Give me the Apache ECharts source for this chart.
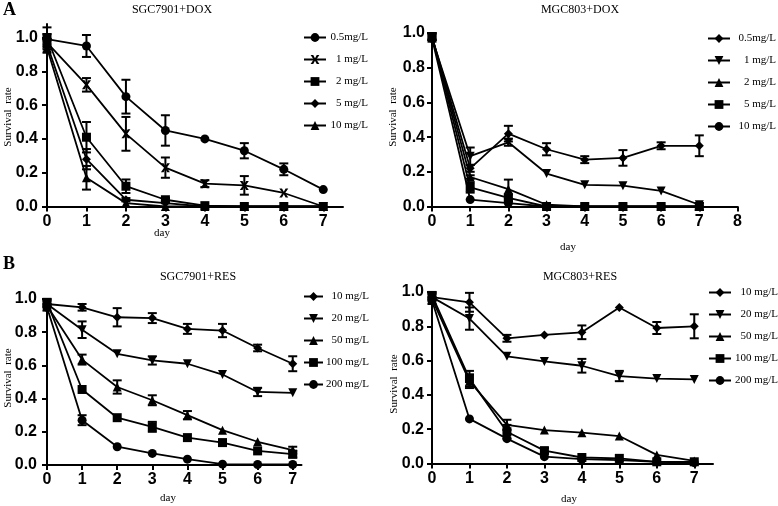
<!DOCTYPE html>
<html>
<head>
<meta charset="utf-8">
<script src="https://cdn.jsdelivr.net/npm/echarts@6/dist/echarts.min.js"></script>
<style>
  html, body { margin: 0; padding: 0; background: #fff; }
  #chart { width: 778px; height: 506px; }
</style>
</head>
<body>
<div id="chart"></div>
<script>
// 天数
var days = [0, 1, 2, 3, 4, 5, 6, 7];

// A: SGC7901+DOX
var sgcDoxNames = ['0.5mg/L', '1 mg/L', '2 mg/L', '5 mg/L', '10 mg/L'];
var sgcDox05 = [0.99, 0.95, 0.65, 0.45, 0.40, 0.33, 0.22, 0.10];
var sgcDox05Err = [0.03, 0.065, 0.10, 0.09, 0, 0.045, 0.035, 0];
var sgcDox1 = [0.97, 0.72, 0.43, 0.23, 0.135, 0.125, 0.08, 0.0];
var sgcDox1Err = [0.02, 0.04, 0.10, 0.06, 0.02, 0.055, 0, 0];
var sgcDox2 = [1.0, 0.41, 0.12, 0.04, 0.005, 0.0, 0.0, 0.0];
var sgcDox2Err = [0.06, 0.09, 0.04, 0.01, 0, 0, 0, 0];
var sgcDox5 = [0.96, 0.28, 0.04, 0.02, 0.0, 0.0, 0.0, 0.0];
var sgcDox5Err = [0.03, 0.06, 0.01, 0, 0, 0, 0, 0];
var sgcDox10 = [0.94, 0.17, 0.02, 0.0, 0.0, 0.0, 0.0, 0.0];
var sgcDox10Err = [0.03, 0.07, 0, 0, 0, 0, 0, 0];

// A: MGC803+DOX
var mgcDoxNames = ['0.5mg/L', '1 mg/L', '2 mg/L', '5 mg/L', '10 mg/L'];
var mgcDox05 = [0.98, 0.22, 0.42, 0.33, 0.27, 0.28, 0.35, 0.35];
var mgcDox05Err = [0.02, 0.02, 0.045, 0.035, 0.02, 0.045, 0.02, 0.06];
var mgcDox1 = [0.97, 0.29, 0.37, 0.19, 0.125, 0.12, 0.09, 0.01];
var mgcDox1Err = [0.02, 0.05, 0.02, 0, 0, 0, 0, 0];
var mgcDox2 = [0.98, 0.17, 0.10, 0.01, 0, 0, 0, 0];
var mgcDox2Err = [0, 0.01, 0.055, 0, 0, 0, 0, 0];
var mgcDox5 = [0.98, 0.11, 0.05, 0.0, 0, 0, 0, 0];
var mgcDox5Err = [0.02, 0.03, 0.02, 0, 0, 0, 0, 0.02];
var mgcDox10 = [0.97, 0.04, 0.02, 0, 0, 0, 0, 0];
var mgcDox10Err = [0, 0, 0, 0, 0, 0, 0, 0];

// B: SGC7901+RES
var sgcResNames = ['10 mg/L', '20 mg/L', '50 mg/L', '100 mg/L', '200 mg/L'];
var sgcRes10 = [0.97, 0.95, 0.89, 0.885, 0.82, 0.81, 0.705, 0.61];
var sgcRes10Err = [0.02, 0.02, 0.055, 0.03, 0.03, 0.04, 0.02, 0.045];
var sgcRes20 = [0.97, 0.815, 0.67, 0.63, 0.61, 0.545, 0.44, 0.435];
var sgcRes20Err = [0, 0.05, 0, 0.025, 0, 0, 0.025, 0];
var sgcRes50 = [0.96, 0.635, 0.47, 0.39, 0.30, 0.21, 0.14, 0.09];
var sgcRes50Err = [0, 0.03, 0.04, 0.03, 0.025, 0, 0, 0.02];
var sgcRes100 = [0.98, 0.455, 0.285, 0.23, 0.165, 0.135, 0.085, 0.065];
var sgcRes100Err = [0.02, 0, 0, 0.03, 0, 0, 0, 0.02];
var sgcRes200 = [0.95, 0.27, 0.11, 0.07, 0.035, 0.005, 0.003, 0.003];
var sgcRes200Err = [0.02, 0.03, 0, 0, 0, 0, 0, 0];

// B: MGC803+RES
var mgcResNames = ['10 mg/L', '20 mg/L', '50 mg/L', '100 mg/L', '200 mg/L'];
var mgcRes10 = [0.97, 0.94, 0.73, 0.75, 0.765, 0.91, 0.79, 0.80];
var mgcRes10Err = [0.02, 0.055, 0.02, 0, 0.04, 0, 0.035, 0.07];
var mgcRes20 = [0.97, 0.845, 0.625, 0.595, 0.57, 0.51, 0.495, 0.49];
var mgcRes20Err = [0, 0.065, 0, 0, 0.04, 0.03, 0, 0];
var mgcRes50 = [0.96, 0.48, 0.225, 0.195, 0.18, 0.16, 0.05, 0.015];
var mgcRes50Err = [0, 0.04, 0.03, 0, 0, 0, 0, 0];
var mgcRes100 = [0.98, 0.495, 0.185, 0.075, 0.035, 0.03, 0.01, 0.01];
var mgcRes100Err = [0.02, 0.045, 0.04, 0.015, 0, 0, 0, 0];
var mgcRes200 = [0.95, 0.26, 0.145, 0.04, 0.025, 0.02, 0.01, 0.005];
var mgcRes200Err = [0.02, 0, 0, 0, 0, 0, 0, 0];

// y轴刻度
var yTicks = [0, 0.2, 0.4, 0.6, 0.8, 1.0];

var crossPath = 'path://M0,0 L3,0 L5,3.5 L7,0 L10,0 L6.5,5 L10,10 L7,10 L5,6.5 L3,10 L0,10 L3.5,5 Z';
var downTri = 'path://M0,0 L10,0 L5,10 Z';

var panels = [
    { id: 'a1', names: sgcDoxNames, means: [sgcDox05, sgcDox1, sgcDox2, sgcDox5, sgcDox10],
      errs: [sgcDox05Err, sgcDox1Err, sgcDox2Err, sgcDox5Err, sgcDox10Err],
      symbols: ['circle', crossPath, 'rect', 'diamond', 'triangle'],
      grid: { left: 47, top: 24, width: 296, height: 182.5 }, xMax: 7.5, yMax: 1.08,
      xTicks: [0, 1, 2, 3, 4, 5, 6, 7], yMargin: 9,
      legend: { left: 303, top: 32, itemWidth: 22, textWidth: 37 } },
    { id: 'a2', names: mgcDoxNames, means: [mgcDox05, mgcDox1, mgcDox2, mgcDox5, mgcDox10],
      errs: [mgcDox05Err, mgcDox1Err, mgcDox2Err, mgcDox5Err, mgcDox10Err],
      symbols: ['diamond', downTri, 'triangle', 'rect', 'circle'],
      grid: { left: 432, top: 33, width: 305.5, height: 173.5 }, xMax: 8, yMax: 1.0,
      xTicks: [0, 1, 2, 3, 4, 5, 6, 7, 8], yMargin: 7,
      legend: { left: 707, top: 33, itemWidth: 22, textWidth: 41 } },
    { id: 'b1', names: sgcResNames, means: [sgcRes10, sgcRes20, sgcRes50, sgcRes100, sgcRes200],
      errs: [sgcRes10Err, sgcRes20Err, sgcRes50Err, sgcRes100Err, sgcRes200Err],
      symbols: ['diamond', downTri, 'triangle', 'rect', 'circle'],
      grid: { left: 47, top: 299, width: 254.5, height: 166 }, xMax: 7.25, yMax: 1.0,
      xTicks: [0, 1, 2, 3, 4, 5, 6, 7], yMargin: 10,
      legend: { left: 303, top: 291, itemWidth: 19, textWidth: 41 } },
    { id: 'b2', names: mgcResNames, means: [mgcRes10, mgcRes20, mgcRes50, mgcRes100, mgcRes200],
      errs: [mgcRes10Err, mgcRes20Err, mgcRes50Err, mgcRes100Err, mgcRes200Err],
      symbols: ['diamond', downTri, 'triangle', 'rect', 'circle'],
      grid: { left: 432, top: 292, width: 281, height: 171.5 }, xMax: 7.5, yMax: 1.0,
      xTicks: [0, 1, 2, 3, 4, 5, 6, 7], yMargin: 8,
      legend: { left: 708, top: 287, itemWidth: 22, textWidth: 42 } }
];

// 误差线
function renderErr(params, api) {
    var x = api.value(0), lo = api.value(1), hi = api.value(2);
    var top = api.coord([x, hi]);
    var bot = api.coord([x, lo]);
    var w = 4.5;
    var st = { stroke: '#000', lineWidth: 2 };
    return {
        type: 'group',
        children: [
            { type: 'line', shape: { x1: top[0], y1: top[1], x2: bot[0], y2: bot[1] }, style: st },
            { type: 'line', shape: { x1: top[0] - w, y1: top[1], x2: top[0] + w, y2: top[1] }, style: st },
            { type: 'line', shape: { x1: bot[0] - w, y1: bot[1], x2: bot[0] + w, y2: bot[1] }, style: st }
        ]
    };
}

var axisFont = { color: '#000', fontFamily: 'Liberation Sans', fontWeight: 'bold', fontSize: 16 };
var serif = 'Liberation Serif';

var grids = [], xAxes = [], yAxes = [], legends = [], series = [];
panels.forEach(function(p, gi) {
    grids.push(p.grid);
    xAxes.push({
        type: 'value', gridIndex: gi, min: 0, max: p.xMax,
        axisLine: { lineStyle: { color: '#000', width: 2 } },
        axisTick: { show: true, length: 5, lineStyle: { color: '#000', width: 2 }, customValues: p.xTicks },
        axisLabel: Object.assign({ margin: 7, customValues: p.xTicks }, axisFont),
        splitLine: { show: false }
    });
    yAxes.push({
        type: 'value', gridIndex: gi, min: 0, max: p.yMax,
        axisLine: { show: true, lineStyle: { color: '#000', width: 2 } },
        axisTick: { show: true, length: 5, lineStyle: { color: '#000', width: 2 }, customValues: yTicks },
        axisLabel: Object.assign({ margin: p.yMargin, customValues: yTicks,
            formatter: function(v) { return v.toFixed(1); } }, axisFont),
        splitLine: { show: false }
    });
    var legendData = [];
    p.names.forEach(function(name, si) {
        var sname = p.id + '|' + name;
        legendData.push(sname);
        series.push({
            name: sname, type: 'line', xAxisIndex: gi, yAxisIndex: gi,
            data: days.map(function(d, i) { return [d, p.means[si][i]]; }),
            symbol: p.symbols[si], symbolSize: 9,
            itemStyle: { color: '#000' },
            lineStyle: { color: '#000', width: 1.8 },
            animation: false, z: 3
        });
        var errData = [];
        days.forEach(function(d, i) {
            var e = p.errs[si][i];
            if (e > 0) errData.push([d, p.means[si][i] - e, p.means[si][i] + e]);
        });
        series.push({
            type: 'custom', xAxisIndex: gi, yAxisIndex: gi,
            renderItem: renderErr, data: errData, animation: false, z: 4, silent: true
        });
    });
    legends.push({
        orient: 'vertical', left: p.legend.left, top: p.legend.top, padding: 0,
        itemWidth: p.legend.itemWidth, itemHeight: 11, itemGap: 11,
        selectedMode: false, data: legendData,
        formatter: function(n) { return '{t|' + n.split('|')[1] + '}'; },
        textStyle: {
            rich: { t: { width: p.legend.textWidth, align: 'right', fontFamily: serif,
                         fontSize: 11, color: '#000', lineHeight: 12 } }
        }
    });
});

function txt(x, y, text, size, extra) {
    return Object.assign({
        type: 'text', x: x, y: y,
        style: { text: text, fill: '#000', font: size + 'px "' + serif + '"',
                 align: 'center', verticalAlign: 'middle' }
    }, extra || {});
}

var graphics = [
    { type: 'text', left: 3, top: 1, style: { text: 'A', fill: '#000', font: 'bold 18px "Liberation Serif"' } },
    { type: 'text', left: 3, top: 255, style: { text: 'B', fill: '#000', font: 'bold 18px "Liberation Serif"' } },
    txt(172, 10, 'SGC7901+DOX', 12),
    txt(580, 10, 'MGC803+DOX', 12),
    txt(198, 277, 'SGC7901+RES', 12),
    txt(580, 277, 'MGC803+RES', 12),
    txt(8, 117, 'Survival  rate', 11, { rotation: Math.PI / 2 }),
    txt(393, 117, 'Survival  rate', 11, { rotation: Math.PI / 2 }),
    txt(8, 378, 'Survival  rate', 11, { rotation: Math.PI / 2 }),
    txt(394, 384, 'Survival  rate', 11, { rotation: Math.PI / 2 }),
    txt(162, 233, 'day', 11),
    txt(568, 247, 'day', 11),
    txt(168, 498, 'day', 11),
    txt(569, 499, 'day', 11)
];

var myChart = echarts.init(document.getElementById('chart'));
myChart.setOption({
    backgroundColor: '#fff',
    animation: false,
    grid: grids,
    xAxis: xAxes,
    yAxis: yAxes,
    legend: legends,
    series: series,
    graphic: graphics
});
</script>
</body>
</html>
